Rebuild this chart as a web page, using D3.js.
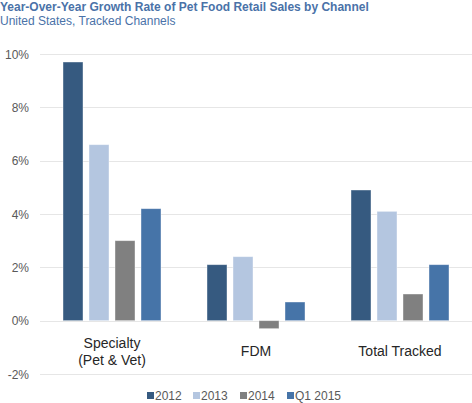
<!DOCTYPE html>
<html><head><meta charset="utf-8">
<script src="https://cdn.jsdelivr.net/npm/d3@7"></script>
<style>body{margin:0;background:#fff;}svg{display:block;font-family:"Liberation Sans",Arial,sans-serif;}</style>
</head><body>
<svg id="c" width="472" height="403"></svg>
<script>
const categories = ["Specialty\n(Pet & Vet)", "FDM", "Total Tracked"];
const seriesNames = ["2012", "2013", "2014", "Q1 2015"];
const s2012 = [9.7, 2.1, 4.9];
const s2013 = [6.6, 2.4, 4.1];
const s2014 = [3.0, -0.3, 1.0];
const sQ1 = [4.2, 0.7, 2.1];
const tickValues = [-2, 0, 2, 4, 6, 8, 10];
const colors = ["#365A80", "#B4C6E0", "#808080", "#4674A8"];

const series = [s2012, s2013, s2014, sQ1];
const svg = d3.select("#c");

const groupW = 98;
const x0 = d3.scaleBand().domain(categories).range([40, 472]).paddingInner(0).paddingOuter(0);
const x1 = d3.scaleBand().domain(seriesNames).range([0, groupW]).paddingInner(6 / 26).paddingOuter(0);
const y = d3.scaleLinear().domain([-2, 10]).range([374, 54]);

// title
svg.append("text").attr("x", 0).attr("y", 11).attr("font-size", 12).attr("font-weight", "bold")
  .attr("fill", "#4A72A8").text("Year-Over-Year Growth Rate of Pet Food Retail Sales by Channel");
svg.append("text").attr("x", 0).attr("y", 25).attr("font-size", 12)
  .attr("fill", "#4A72A8").text("United States, Tracked Channels");

// axis labels
const yAxis = d3.axisLeft(y).tickValues(tickValues).tickFormat(d => d + "%").tickSize(0).tickPadding(0);
const ga = svg.append("g").attr("transform", "translate(29,0)").call(yAxis);
ga.attr("font-family", null);
ga.select(".domain").remove();
ga.selectAll("text").attr("font-size", 12).attr("fill", "#595959").attr("dy", "0.35em");

// grid
svg.append("g").selectAll("line").data(tickValues).join("line")
  .attr("x1", 40).attr("x2", 472)
  .attr("y1", d => Math.round(y(d)) + 0.5).attr("y2", d => Math.round(y(d)) + 0.5)
  .attr("stroke", "#E6E6E6").attr("stroke-width", 1);

// bars
const groups = svg.append("g").selectAll("g").data(categories).join("g")
  .attr("transform", c => `translate(${x0(c) + (x0.bandwidth() - groupW) / 2},0)`);
groups.selectAll("rect").data((c, i) => seriesNames.map((s, j) => ({s, j, v: series[j][i]})))
  .join("rect")
  .attr("x", d => x1(d.s))
  .attr("width", x1.bandwidth())
  .attr("y", d => y(Math.max(0, d.v)))
  .attr("height", d => Math.abs(y(d.v) - y(0)))
  .attr("fill", d => colors[d.j])
  .attr("stroke", "#ffffff").attr("stroke-opacity", 0.5).attr("stroke-width", 0.8);

// category labels
svg.append("g").selectAll("text").data(categories).join("text")
  .attr("text-anchor", "middle").attr("font-size", 14).attr("fill", "#262626")
  .each(function(c) {
    const lines = c.split("\n");
    const t = d3.select(this);
    const cx = x0(c) + x0.bandwidth() / 2;
    const startY = lines.length === 1 ? 356 : 348;
    lines.forEach((l, i) => t.append("tspan").attr("x", cx).attr("y", startY + i * 17).text(l));
  });

// legend
const legendX = [147, 193, 240, 287];
const lg = svg.append("g").selectAll("g").data(seriesNames).join("g")
  .attr("transform", (d, i) => `translate(${legendX[i]},0)`);
lg.append("rect").attr("x", 0).attr("y", 392).attr("width", 7).attr("height", 7).attr("fill", (d, i) => colors[i]);
lg.append("text").attr("x", 8).attr("y", 400).attr("font-size", 12).attr("fill", "#595959").text(d => d);
</script>
</body></html>
